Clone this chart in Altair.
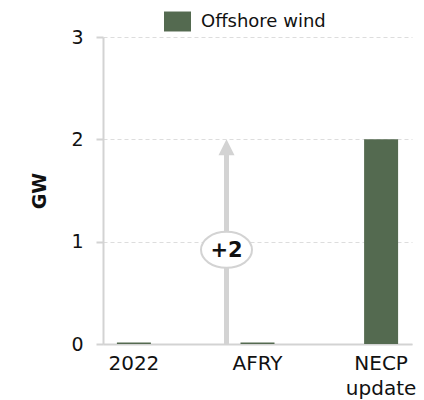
import altair as alt
import pandas as pd

# Offshore wind capacity (GW) by source
categories = ["2022", "AFRY", "NECP update"]
offshore_gw = [0.015, 0.015, 2.0]
series_name = "Offshore wind"
bar_color = "#546a50"
axis_gray = "#d3d3d3"

bars_df = pd.DataFrame({"category": categories, "gw": offshore_gw, "series": series_name})

# Increase from the AFRY estimate to the NECP update
gain = offshore_gw[2] - offshore_gw[1]
arrow_df = pd.DataFrame({
    "category": [categories[1]],
    "start": [0.0],
    "shaft_top": [round(gain) * 0.94],
    "tip": [round(gain)],
    "label_at": [round(gain) * 0.46],
    "label": [f"+{round(gain)}"],
})

FONT = "DejaVu Sans"

x_enc = alt.X(
    "category:N",
    sort=categories,
    title=None,
    scale=alt.Scale(paddingInner=0.725, paddingOuter=0.1125),
    axis=alt.Axis(
        labelAngle=0,
        labelExpr="split(datum.label, ' ')",
        labelLineHeight=25,
        labelFontSize=20,
        labelFont=FONT,
        labelColor="#111111",
        labelPadding=9,
        ticks=False,
        domainColor=axis_gray,
        domainWidth=2,
        grid=False,
    ),
)

y_scale = alt.Scale(domain=[0, 3], nice=False)

bars = alt.Chart(bars_df).mark_bar().encode(
    x=x_enc,
    y=alt.Y(
        "gw:Q",
        scale=y_scale,
        title="GW",
        axis=alt.Axis(
            values=[0, 1, 2, 3],
            format="d",
            labelFontSize=19,
            labelFont=FONT,
            labelColor="#111111",
            labelPadding=13,
            tickSize=7,
            tickWidth=2,
            tickColor=axis_gray,
            domainColor=axis_gray,
            domainWidth=2,
            grid=True,
            gridColor="#dddddd",
            gridDash=[4, 3],
            gridWidth=1,
            titleFont=FONT,
            titleFontSize=19,
            titleFontWeight="bold",
            titleColor="#111111",
            titleAngle=270,
            titleX=-64,
            titleY=153.5,
            titleAlign="center",
            titleBaseline="middle",
        ),
    ),
    color=alt.Color(
        "series:N",
        scale=alt.Scale(domain=[series_name], range=[bar_color]),
        legend=alt.Legend(
            title=None,
            orient="none",
            legendX=61,
            legendY=-29,
            symbolType="M-1,-0.74H1V0.74H-1Z",
            symbolSize=729,
            symbolStrokeWidth=0,
            symbolOpacity=1,
            labelFont=FONT,
            labelFontSize=18,
            labelColor="#111111",
            labelOffset=10,
        ),
    ),
)

arrow_base = alt.Chart(arrow_df)

shaft = arrow_base.mark_rule(color=axis_gray, strokeWidth=5, xOffset=-31).encode(
    x=alt.X("category:N", sort=categories),
    y=alt.Y("start:Q", scale=y_scale),
    y2="shaft_top:Q",
)

head = arrow_base.mark_point(
    shape="M0,-1L1,1L-1,1Z", size=256, filled=True, color=axis_gray,
    opacity=1, xOffset=-31, yOffset=8,
).encode(
    x=alt.X("category:N", sort=categories),
    y=alt.Y("tip:Q", scale=y_scale),
)

bubble = arrow_base.mark_point(
    shape="M-1,0C-1,-0.39,-0.552,-0.706,0,-0.706C0.552,-0.706,1,-0.39,1,0C1,0.39,0.552,0.706,0,0.706C-0.552,0.706,-1,0.39,-1,0Z",
    size=2601, filled=True, fill="white", stroke=axis_gray, strokeWidth=2,
    opacity=1, xOffset=-31,
).encode(
    x=alt.X("category:N", sort=categories),
    y=alt.Y("label_at:Q", scale=y_scale),
)

bubble_text = arrow_base.mark_text(
    font=FONT, fontSize=21, fontWeight="bold", color="#111111",
    align="center", baseline="middle", xOffset=-31, dy=1,
).encode(
    x=alt.X("category:N", sort=categories),
    y=alt.Y("label_at:Q", scale=y_scale),
    text="label:N",
)

chart = alt.layer(bars, shaft, head, bubble, bubble_text).properties(
    width=309,
    height=307,
    background="white",
    autosize=alt.AutoSizeParams(type="none"),
    padding={"left": 103, "top": 37, "right": 12, "bottom": 56},
).configure_view(strokeWidth=0)

chart.save("out.html", embed_options={"renderer": "svg", "actions": False})
